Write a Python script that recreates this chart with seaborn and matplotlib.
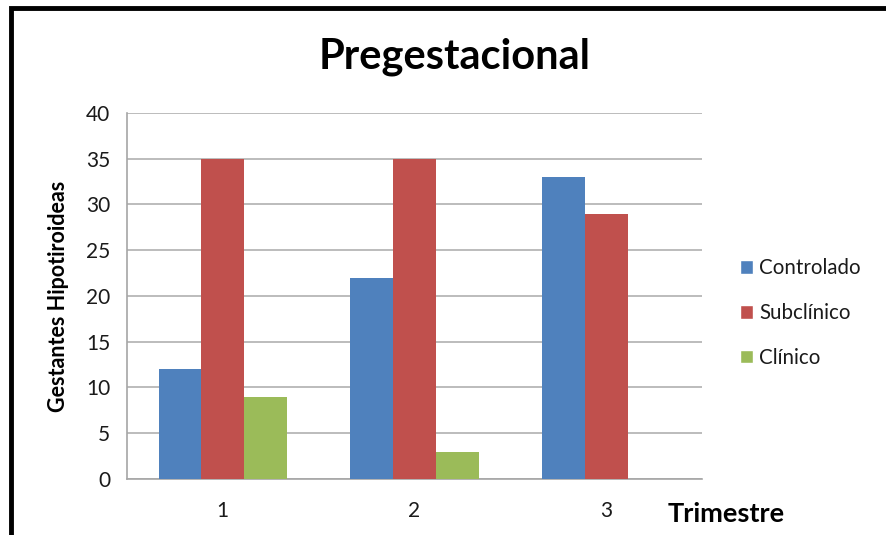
import matplotlib
matplotlib.use("Agg")
import matplotlib.pyplot as plt
import seaborn as sns
import pandas as pd
from matplotlib.patches import Rectangle, Patch

trimestres = ["1", "2", "3"]
series = ["Controlado", "Subclínico", "Clínico"]
controlado = [12, 22, 33]
subclinico = [35, 35, 29]
clinico = [9, 3, 0]
colores = ["#4F81BD", "#C0504D", "#9BBB59"]

df = pd.DataFrame({
    "Trimestre": trimestres * 3,
    "Serie": [s for s in series for _ in trimestres],
    "Valor": controlado + subclinico + clinico,
})

sns.set_theme(style="white")
plt.rcParams["font.family"] = ["Lato", "DejaVu Sans"]

fig = plt.figure(figsize=(8.86, 5.35), dpi=100)
ax = fig.add_axes([0.1433, 0.1047, 0.649, 0.6841])

sns.barplot(data=df, x="Trimestre", y="Valor", hue="Serie", order=trimestres,
            hue_order=series, palette=colores, width=0.67, saturation=1,
            linewidth=0, edgecolor="none", ax=ax, legend=False, zorder=3)

ax.set_ylim(0, 40)
ax.set_yticks(range(0, 41, 5))
ax.set_xlim(-0.5, 2.5)
ax.yaxis.grid(True, color="#B0B0B0", linewidth=1.2, zorder=0)
ax.set_axisbelow(True)
for side in ["top", "right"]:
    ax.spines[side].set_visible(False)
for side in ["left", "bottom"]:
    ax.spines[side].set_color("#A6A6A6")
    ax.spines[side].set_linewidth(1.2)
ax.tick_params(axis="y", length=0, labelsize=15, colors="#1a1a1a", pad=12)
ax.tick_params(axis="x", length=0, labelsize=15, colors="#1a1a1a", pad=16)

ax.set_xlabel("")
ax.set_ylabel("Gestantes Hipotiroideas", fontsize=15.5, fontweight="bold",
              color="black", labelpad=12)
fig.text(0.754, 0.04, "Trimestre", fontsize=19.5, fontweight="bold",
         color="black", ha="left", va="center")
fig.text(0.513, 0.893, "Pregestacional", fontsize=30, fontweight="bold",
         color="black", ha="center", va="center")

handles = [Patch(facecolor=c, label=s) for s, c in zip(series, colores)]
fig.legend(handles=handles, loc="center left", bbox_to_anchor=(0.814, 0.415),
           frameon=False, fontsize=14.8, handlelength=0.65, handleheight=0.65,
           handletextpad=0.3, labelspacing=1.2, labelcolor="#1a1a1a")

fig.patches.append(Rectangle((0.012, -0.1), 1.1, 1.085, transform=fig.transFigure,
                             fill=False, edgecolor="black", linewidth=3.5))

fig.savefig("out.png", dpi=100, facecolor="white")
